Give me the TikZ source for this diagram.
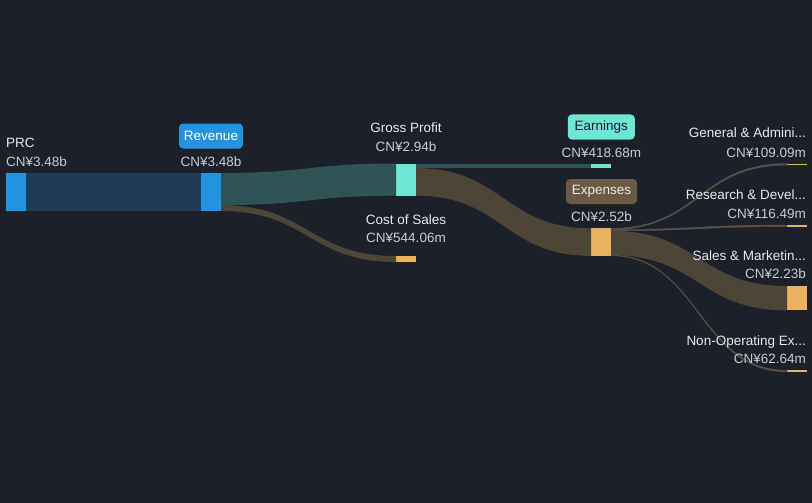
\documentclass[tikz,border=0pt]{standalone}
\usepackage{fontspec}
\setmainfont{Liberation Sans}
\definecolor{bgdark}{RGB}{27,32,43}
\definecolor{revblue}{RGB}{35,148,224}
\definecolor{revlink}{RGB}{30,60,86}
\definecolor{gpteal}{RGB}{110,230,210}
\definecolor{teallink}{RGB}{47,84,88}
\definecolor{exporange}{RGB}{233,177,96}
\definecolor{brownlink}{RGB}{79,69,55}
\definecolor{thinlink}{RGB}{88,80,68}
\definecolor{expbox}{RGB}{108,90,69}
\definecolor{namegrey}{RGB}{232,233,235}
\definecolor{valgrey}{RGB}{200,203,208}
\tikzset{
  bar/.style={anchor=north west, minimum width=20pt, inner sep=0pt, outer sep=0pt},
  lbl/.style={inner sep=0pt, text=namegrey, font=\fontsize{13.5}{16}\selectfont},
  val/.style={lbl, text=valgrey},
  tag/.style={rounded corners=4pt, minimum height=25pt, inner sep=0pt, font=\fontsize{13.5}{16}\selectfont},
  thin/.style={fill=thinlink, draw=thinlink, line width=0.35pt}
}
\begin{document}
\begin{tikzpicture}[x=1pt, y=-1pt]
\fill[bgdark] (0,0) rectangle (812,503);
\useasboundingbox (0,0) rectangle (812,503);
% bars
\node[bar, fill=revblue, minimum height=38pt] (prc) at (6,173) {};
\node[bar, fill=revblue, minimum height=38pt] (rev) at (201,173) {};
\node[bar, fill=gpteal, minimum height=32.2pt] (gp) at (396,163.5) {};
\node[bar, fill=exporange, minimum height=6pt] (cos) at (396,256) {};
\node[bar, fill=gpteal, minimum height=4.6pt] (earn) at (591,163.5) {};
\node[bar, fill=exporange, minimum height=27.5pt] (exp) at (591,228.3) {};
\node[bar, fill=exporange, minimum height=1.6pt] (ga) at (787,163.5) {};
\node[bar, fill=exporange, minimum height=1.6pt] (rd) at (787,225) {};
\node[bar, fill=exporange, minimum height=24.4pt] (sm) at (787,286) {};
\node[bar, fill=exporange, minimum height=1.6pt] (nonop) at (787,370.3) {};
\coordinate (revsplit) at (221,205.1);
\coordinate (gpsplit) at (416,168.1);
\coordinate (expa) at (611,229.5);
\coordinate (expb) at (611,230.8);
\coordinate (expc) at (611,255.2);
% links
\fill[revlink] (prc.north east) rectangle (rev.south west);
\fill[teallink] (rev.north east) .. controls +(87,0) and +(-87,0) .. (gp.north west)
  -- (gp.south west) .. controls +(-87,0) and +(87,0) .. (revsplit) -- cycle;
\fill[brownlink] (revsplit) .. controls +(87,0) and +(-87,0) .. (cos.north west)
  -- (cos.south west) .. controls +(-87,0) and +(87,0) .. (rev.south east) -- cycle;
\fill[teallink] (gp.north east) rectangle (earn.south west);
\fill[brownlink] (gpsplit) .. controls +(87,0) and +(-87,0) .. (exp.north west)
  -- (exp.south west) .. controls +(-87,0) and +(87,0) .. (gp.south east) -- cycle;
\filldraw[thin] (exp.north east) .. controls +(88,0) and +(-88,0) .. (ga.north west)
  -- (ga.south west) .. controls +(-88,0) and +(88,0) .. (expa) -- cycle;
\filldraw[thin] (expa) .. controls +(88,0) and +(-88,0) .. (rd.north west)
  -- (rd.south west) .. controls +(-88,0) and +(88,0) .. (expb) -- cycle;
\fill[brownlink] (expb) .. controls +(88,0) and +(-88,0) .. (sm.north west)
  -- (sm.south west) .. controls +(-88,0) and +(88,0) .. (expc) -- cycle;
\filldraw[thin] (expc) .. controls +(88,0) and +(-88,0) .. (nonop.north west)
  -- (nonop.south west) .. controls +(-88,0) and +(88,0) .. (exp.south east) -- cycle;
% labels
\node[lbl, anchor=base west] (prcname) at (6,147.5) {PRC};
\node[val, anchor=base west] (prcval) at (6,166.7) {CN¥3.48b};
\node[tag, fill=revblue, text=white, minimum width=64pt] (revtag) at (211,136) {Revenue};
\node[val, anchor=base] (revval) at (211,166.7) {CN¥3.48b};
\node[lbl, anchor=base] (gpname) at (406,132) {Gross Profit};
\node[val, anchor=base] (gpval) at (406,151.3) {CN¥2.94b};
\node[lbl, anchor=base] (cosname) at (406,224.3) {Cost of Sales};
\node[val, anchor=base] (cosval) at (406,242.7) {CN¥544.06m};
\node[tag, fill=gpteal, text=bgdark, minimum width=67pt] (earntag) at (601.3,127) {Earnings};
\node[val, anchor=base] (earnval) at (601.3,157.3) {CN¥418.68m};
\node[tag, fill=expbox, text=namegrey, minimum width=71pt] (exptag) at (601.5,191.5) {Expenses};
\node[val, anchor=base] (expval) at (601.5,221) {CN¥2.52b};
\node[lbl, anchor=base east] (ganame) at (806,138) {General \& Admini...};
\node[val, anchor=base east] (gaval) at (806,157.3) {CN¥109.09m};
\node[lbl, anchor=base east] (rdname) at (806,199.3) {Research \& Devel...};
\node[val, anchor=base east] (rdval) at (806,218) {CN¥116.49m};
\node[lbl, anchor=base east] (smname) at (806,260) {Sales \& Marketin...};
\node[val, anchor=base east] (smval) at (806,278.7) {CN¥2.23b};
\node[lbl, anchor=base east] (nonopname) at (806,345) {Non-Operating Ex...};
\node[val, anchor=base east] (nonopval) at (806,363.3) {CN¥62.64m};
\end{tikzpicture}
\end{document}
